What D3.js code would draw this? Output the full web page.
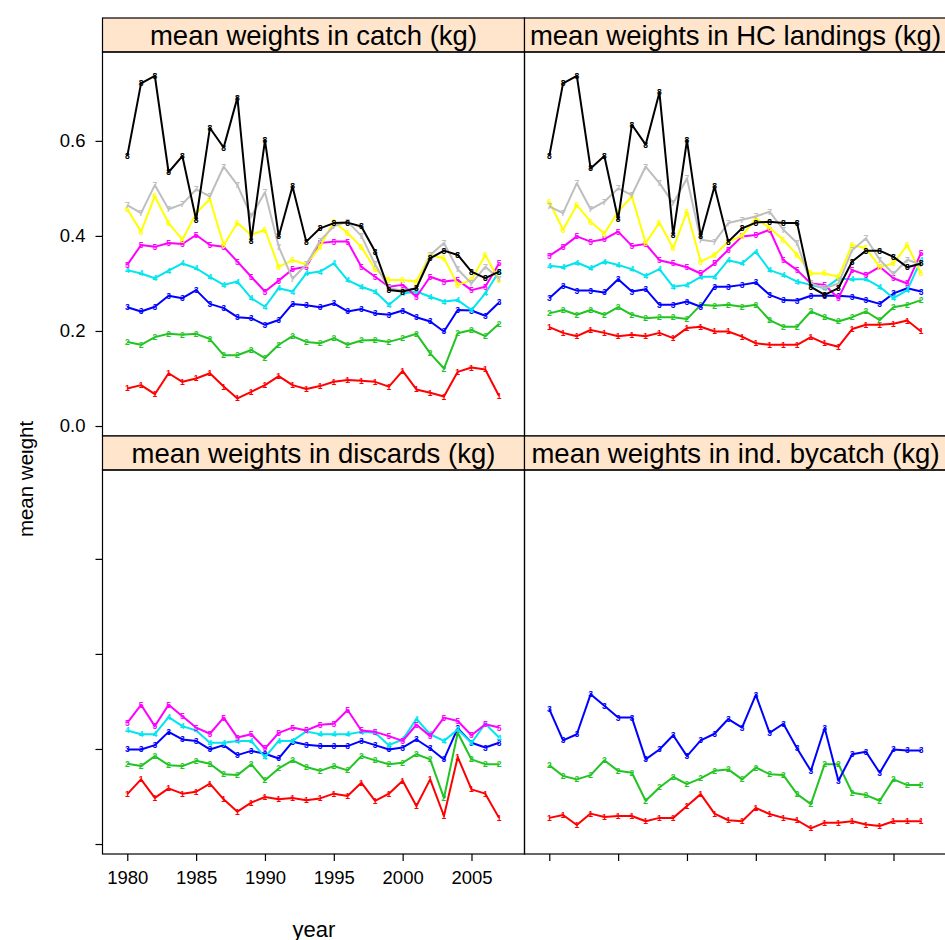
<!DOCTYPE html>
<html>
<head>
<meta charset="utf-8">
<script src="https://cdn.jsdelivr.net/npm/d3@7"></script>
<style>
  html, body { margin: 0; padding: 0; background: #fff; }
  svg { display: block; }
  text { font-family: "Liberation Sans", Arial, sans-serif; }
</style>
</head>
<body>
<svg id="chart" width="945" height="940"></svg>
<script>
// Years of the time series
const years = [1980,1981,1982,1983,1984,1985,1986,1987,1988,1989,1990,1991,1992,1993,
               1994,1995,1996,1997,1998,1999,2000,2001,2002,2003,2004,2005,2006,2007];
const xTickYears = [1980, 1985, 1990, 1995, 2000, 2005];
const yTicks = [0.0, 0.2, 0.4, 0.6];

// Ages (plot symbols) and their colours
const ages = ["1","2","3","4","5","6","7","8"];
const ageColors = ["#ff0000","#22c422","#0000ff","#00e5ee","#ff00ff","#ffff00","#bebebe","#000000"];

// Mean weights in catch (kg), by age
const catch1 = [0.079,0.086,0.067,0.111,0.093,0.100,0.111,0.083,0.058,0.072,0.086,0.105,0.086,0.078,0.084,0.093,0.097,0.095,0.093,0.083,0.116,0.077,0.070,0.062,0.114,0.123,0.119,0.063];
const catch2 = [0.177,0.171,0.187,0.194,0.192,0.194,0.183,0.149,0.149,0.160,0.143,0.171,0.189,0.177,0.174,0.185,0.171,0.180,0.181,0.177,0.185,0.194,0.153,0.121,0.195,0.202,0.189,0.215];
const catch3 = [0.250,0.241,0.251,0.274,0.269,0.286,0.257,0.248,0.229,0.227,0.213,0.223,0.257,0.254,0.250,0.258,0.241,0.246,0.237,0.234,0.243,0.229,0.220,0.199,0.244,0.243,0.232,0.260];
const catch4 = [0.328,0.321,0.311,0.327,0.342,0.332,0.314,0.297,0.304,0.269,0.251,0.290,0.283,0.321,0.325,0.342,0.307,0.293,0.283,0.255,0.279,0.283,0.272,0.262,0.265,0.244,0.279,0.325];
const catch5 = [0.339,0.381,0.377,0.385,0.383,0.402,0.381,0.377,0.346,0.314,0.283,0.306,0.330,0.335,0.385,0.388,0.388,0.335,0.314,0.293,0.297,0.272,0.314,0.304,0.307,0.286,0.293,0.342];
const catch6 = [0.456,0.409,0.483,0.427,0.392,0.448,0.477,0.381,0.427,0.402,0.413,0.335,0.349,0.340,0.377,0.430,0.406,0.377,0.330,0.307,0.307,0.304,0.360,0.353,0.297,0.307,0.360,0.307];
const catch7 = [0.465,0.448,0.507,0.456,0.467,0.498,0.483,0.546,0.507,0.441,0.492,0.377,0.310,0.340,0.390,0.420,0.430,0.400,0.340,0.290,0.285,0.290,0.360,0.385,0.330,0.300,0.335,0.310];
const catch8 = [0.568,0.721,0.737,0.534,0.568,0.434,0.627,0.586,0.691,0.390,0.601,0.399,0.504,0.388,0.416,0.427,0.428,0.420,0.367,0.286,0.283,0.290,0.353,0.369,0.360,0.325,0.311,0.325];

// Mean weights in human consumption landings (kg), by age
const hc1 = [0.208,0.196,0.189,0.202,0.196,0.189,0.192,0.189,0.196,0.185,0.206,0.209,0.199,0.199,0.188,0.174,0.171,0.171,0.171,0.187,0.174,0.167,0.204,0.213,0.213,0.215,0.222,0.199];
const hc2 = [0.237,0.244,0.234,0.244,0.234,0.250,0.234,0.227,0.229,0.229,0.225,0.255,0.253,0.255,0.251,0.255,0.223,0.209,0.209,0.241,0.229,0.220,0.229,0.241,0.223,0.250,0.255,0.265];
const hc3 = [0.269,0.295,0.285,0.285,0.281,0.309,0.283,0.288,0.255,0.255,0.262,0.251,0.293,0.293,0.297,0.302,0.276,0.265,0.264,0.274,0.274,0.274,0.272,0.265,0.257,0.279,0.290,0.283];
const hc4 = [0.337,0.334,0.344,0.332,0.346,0.339,0.330,0.316,0.330,0.293,0.297,0.314,0.314,0.349,0.342,0.367,0.328,0.318,0.304,0.297,0.290,0.310,0.309,0.309,0.293,0.269,0.286,0.349];
const hc5 = [0.358,0.377,0.399,0.388,0.393,0.409,0.379,0.383,0.349,0.342,0.334,0.321,0.342,0.371,0.399,0.402,0.413,0.349,0.328,0.300,0.297,0.269,0.328,0.318,0.335,0.311,0.300,0.364];
const hc6 = [0.472,0.413,0.465,0.430,0.405,0.451,0.483,0.385,0.428,0.374,0.451,0.346,0.360,0.388,0.400,0.437,0.417,0.392,0.360,0.321,0.321,0.314,0.381,0.374,0.335,0.342,0.381,0.321];
const hc7 = [0.462,0.448,0.511,0.456,0.472,0.500,0.486,0.546,0.511,0.469,0.521,0.392,0.388,0.427,0.434,0.441,0.451,0.413,0.385,0.300,0.290,0.300,0.370,0.395,0.350,0.320,0.350,0.340];
const hc8 = [0.568,0.721,0.737,0.542,0.568,0.435,0.634,0.592,0.702,0.402,0.601,0.399,0.504,0.388,0.416,0.428,0.430,0.427,0.427,0.293,0.276,0.290,0.346,0.369,0.369,0.356,0.334,0.342];

// Mean weights in discards (kg), ages 1-5
const disc1 = [0.105,0.136,0.097,0.117,0.106,0.110,0.127,0.094,0.068,0.087,0.099,0.094,0.097,0.092,0.096,0.106,0.101,0.129,0.091,0.106,0.133,0.080,0.136,0.059,0.183,0.115,0.106,0.055];
const disc2 = [0.169,0.164,0.185,0.166,0.164,0.175,0.169,0.147,0.145,0.168,0.134,0.159,0.176,0.162,0.154,0.164,0.155,0.185,0.176,0.168,0.171,0.189,0.178,0.097,0.234,0.178,0.168,0.168];
const disc3 = [0.199,0.199,0.208,0.236,0.220,0.217,0.199,0.208,0.187,0.196,0.190,0.180,0.215,0.209,0.206,0.206,0.206,0.217,0.208,0.199,0.203,0.220,0.201,0.178,0.244,0.213,0.203,0.213];
const disc4 = [0.239,0.231,0.231,0.267,0.248,0.239,0.213,0.213,0.217,0.217,0.183,0.217,0.217,0.237,0.231,0.231,0.231,0.236,0.234,0.208,0.220,0.263,0.231,0.217,0.241,0.213,0.253,0.224];
const disc5 = [0.255,0.293,0.248,0.293,0.269,0.245,0.232,0.266,0.224,0.231,0.201,0.234,0.245,0.239,0.251,0.253,0.282,0.239,0.236,0.227,0.217,0.251,0.227,0.266,0.259,0.229,0.252,0.245];

// Mean weights in industrial bycatch (kg), ages 1-3
const byc1 = [0.055,0.061,0.040,0.064,0.057,0.059,0.059,0.048,0.055,0.055,0.080,0.105,0.064,0.050,0.048,0.076,0.063,0.055,0.050,0.033,0.045,0.045,0.048,0.041,0.038,0.048,0.048,0.048];
const byc2 = [0.166,0.143,0.136,0.145,0.176,0.154,0.150,0.091,0.119,0.141,0.126,0.138,0.154,0.157,0.136,0.161,0.147,0.145,0.105,0.084,0.168,0.168,0.108,0.103,0.091,0.136,0.124,0.124];
const byc3 = [0.284,0.218,0.231,0.315,0.291,0.266,0.266,0.178,0.199,0.229,0.185,0.218,0.232,0.263,0.245,0.314,0.234,0.253,0.201,0.154,0.244,0.133,0.189,0.194,0.150,0.199,0.197,0.197];

const panelTitles = ["mean weights in catch (kg)", "mean weights in HC landings (kg)",
                     "mean weights in discards (kg)", "mean weights in ind. bycatch (kg)"];

const panels = [
  { title: panelTitles[0], col: 0, row: 0, series: [catch1,catch2,catch3,catch4,catch5,catch6,catch7,catch8] },
  { title: panelTitles[1], col: 1, row: 0, series: [hc1,hc2,hc3,hc4,hc5,hc6,hc7,hc8] },
  { title: panelTitles[2], col: 0, row: 1, series: [disc1,disc2,disc3,disc4,disc5] },
  { title: panelTitles[3], col: 1, row: 1, series: [byc1,byc2,byc3] }
];

// Layout
const svg = d3.select("#chart");
const colX = [102.5, 524.5];
const panelW = 422;
const stripH = 34;
const panelH = 384;
const rowTop = [18, 436];   // top of strip in each row

const x = d3.scaleLinear().domain([1978.2, 2008.85]).range([0, panelW]);
const y = d3.scaleLinear().domain([-0.021, 0.787]).range([panelH, 0]);

const line = d3.line().x((d, i) => x(years[i])).y(d => y(d));

panels.forEach(p => {
  const gx = colX[p.col];
  const gy = rowTop[p.row];
  const g = svg.append("g").attr("transform", `translate(${gx},${gy})`);

  // strip
  g.append("rect").attr("x", 0).attr("y", 0).attr("width", panelW).attr("height", stripH)
    .attr("fill", "#ffe5cc").attr("stroke", "#000").attr("stroke-width", 1.2);
  g.append("text").attr("x", panelW / 2).attr("y", 27)
    .attr("text-anchor", "middle").attr("font-size", 27.5).attr("fill", "#000")
    .text(p.title);

  const pg = g.append("g").attr("transform", `translate(0,${stripH})`);

  // series
  p.series.forEach((vals, k) => {
    pg.append("path").datum(vals).attr("d", line)
      .attr("fill", "none").attr("stroke", ageColors[k]).attr("stroke-width", 2)
      .attr("stroke-linejoin", "round");
    pg.selectAll(null).data(vals).enter().append("text")
      .attr("x", (d, i) => x(years[i])).attr("y", d => y(d) + 3)
      .attr("text-anchor", "middle").attr("font-size", 8.5).attr("font-weight", "bold")
      .attr("fill", ageColors[k]).text(ages[k]);
  });

  // panel frame
  pg.append("rect").attr("x", 0).attr("y", 0).attr("width", panelW).attr("height", panelH)
    .attr("fill", "none").attr("stroke", "#000").attr("stroke-width", 1.2);

  // left axis ticks (column 1)
  if (p.col === 0) {
    const ax = pg.append("g").call(d3.axisLeft(y).tickValues(yTicks).tickSize(7).tickPadding(10)
      .tickFormat(p.row === 0 ? d3.format(".1f") : () => ""));
    ax.select(".domain").remove();
    ax.selectAll("line").attr("stroke", "#000").attr("stroke-width", 1.2);
    ax.selectAll("text").attr("font-size", 18.5).attr("fill", "#000")
      .attr("font-family", "'Liberation Sans', Arial, sans-serif");
  }
  // bottom axis ticks (row 2)
  if (p.row === 1) {
    const ax = pg.append("g").attr("transform", `translate(0,${panelH})`)
      .call(d3.axisBottom(x).tickValues(xTickYears).tickSize(7).tickPadding(10)
        .tickFormat(p.col === 0 ? d3.format("d") : () => ""));
    ax.select(".domain").remove();
    ax.selectAll("line").attr("stroke", "#000").attr("stroke-width", 1.2);
    ax.selectAll("text").attr("font-size", 18.5).attr("fill", "#000")
      .attr("font-family", "'Liberation Sans', Arial, sans-serif");
  }
});

// axis titles
svg.append("text").attr("x", 314).attr("y", 937).attr("text-anchor", "middle")
  .attr("font-size", 22).attr("fill", "#000").text("year");

svg.append("clipPath").attr("id", "ylab-clip")
  .append("rect").attr("x", 20).attr("y", 0).attr("width", 60).attr("height", 940);
svg.append("g").attr("clip-path", "url(#ylab-clip)")
  .append("text").attr("transform", "translate(33,479) rotate(-90)")
  .attr("text-anchor", "middle").attr("font-size", 20.5).attr("fill", "#000").text("mean weight");
</script>
</body>
</html>
